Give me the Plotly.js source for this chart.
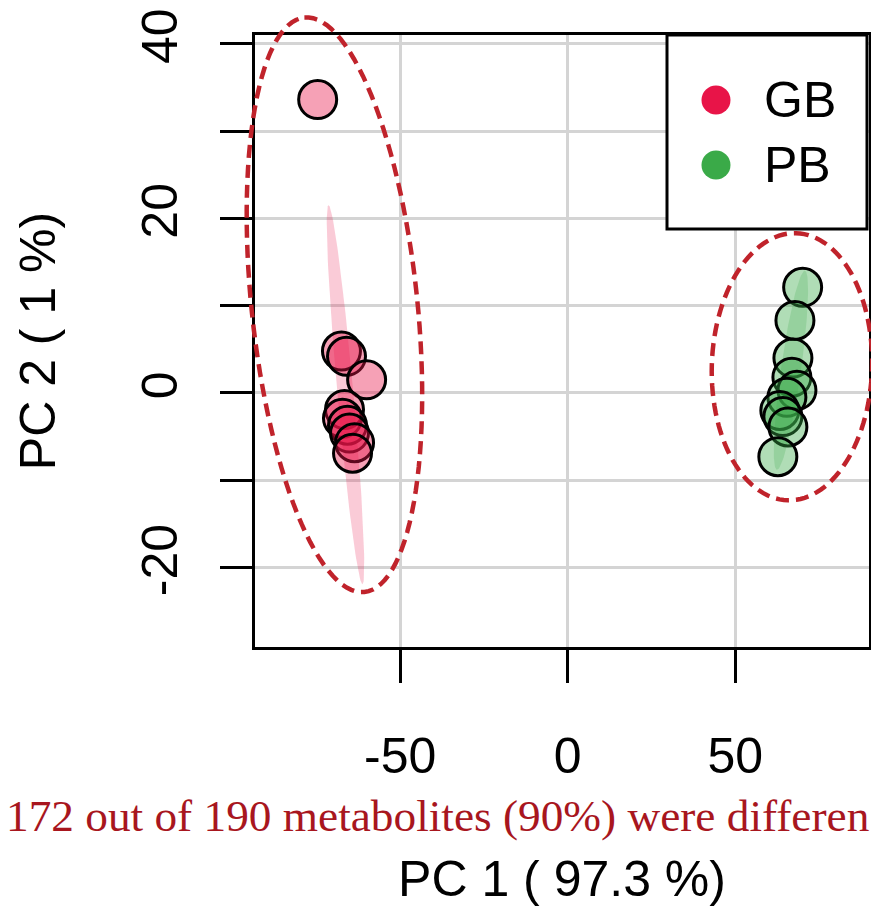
<!DOCTYPE html>
<html>
<head>
<meta charset="utf-8">
<script src="https://cdn.plot.ly/plotly-3.0.1.min.js"></script>
<style>html,body{margin:0;padding:0;background:#fff;}#chart{width:871px;height:907px;}</style>
</head>
<body>
<div id="chart"></div>
<script>
// ---- data ----
const groups = ['GB', 'PB'];
const gbPC1 = [-74.6, -67.5, -66.0, -60.0, -66.6, -67.2, -65.7, -65.1, -63.6, -64.2];
const gbPC2 = [33.6, 4.8, 4.2, 1.5, -1.9, -2.9, -3.7, -4.6, -5.7, -6.9];
const pbPC1 = [70.1, 67.8, 67.2, 66.9, 68.4, 65.4, 63.3, 64.2, 65.7, 62.7];
const pbPC2 = [12.1, 8.3, 4.0, 1.8, 0.3, -0.5, -2.0, -2.7, -3.9, -7.3];
// confidence ellipses: centre, major conjugate vector, minor conjugate vector (data units)
const gbConf = [-66.3, -0.2, -5.07, 21.7, 2.38, 0.08];
const pbConf = [66.6, 2.6, 4.18, 11.4, 2.96, -0.16];
// dashed group ellipses
const gbRing = [-69.6, 10.1, -8.96, 32.9, 24.6, 0.98];
const pbRing = [66.9, 3.0, 1.19, 15.3, 23.9, -0.23];
const xTicks = [-50, 0, 50];
const yTicks = [-20, -10, 0, 10, 20, 30, 40];
const yTickText = ['-20', '', '0', '', '20', '', '40'];
const xRange = [-93.3, 89.9];
const yRange = [-29.1, 41.0];
const note = '172 out of 190 metabolites (90%) were differen';

// ---- styles ----
const gbCol = 'rgb(232,20,72)';
const pbCol = 'rgb(58,170,72)';
const gbFill = 'rgba(232,20,72,0.4)';
const pbFill = 'rgba(58,170,72,0.4)';
const ringCol = '#c0232b';
const sans = 'Liberation Sans, Arial, sans-serif';

function ellipse(p) {
  const xs = [], ys = [];
  for (let i = 0; i <= 120; i++) {
    const t = 2 * Math.PI * i / 120;
    xs.push(p[0] + p[2] * Math.cos(t) + p[4] * Math.sin(t));
    ys.push(p[1] + p[3] * Math.cos(t) + p[5] * Math.sin(t));
  }
  return [xs, ys];
}
function paperPath(p) {
  const [xs, ys] = ellipse(p);
  let d = '';
  for (let i = 0; i < xs.length; i++) {
    const px = (xs[i] - xRange[0]) / (xRange[1] - xRange[0]);
    const py = (ys[i] - yRange[0]) / (yRange[1] - yRange[0]);
    d += (i ? 'L' : 'M') + px.toFixed(5) + ',' + py.toFixed(5);
  }
  return d + 'Z';
}

const gbE = ellipse(gbConf), pbE = ellipse(pbConf);
const traces = [
  {x: gbE[0], y: gbE[1], mode: 'lines', fill: 'toself', fillcolor: 'rgba(232,20,72,0.22)',
   line: {width: 0, color: 'rgba(0,0,0,0)'}, hoverinfo: 'skip', showlegend: false},
  {x: pbE[0], y: pbE[1], mode: 'lines', fill: 'toself', fillcolor: 'rgba(58,170,72,0.22)',
   line: {width: 0, color: 'rgba(0,0,0,0)'}, hoverinfo: 'skip', showlegend: false},
  {x: gbPC1, y: gbPC2, name: groups[0], mode: 'markers', showlegend: false,
   marker: {size: 38, color: gbFill, line: {color: '#000', width: 3}}},
  {x: pbPC1, y: pbPC2, name: groups[1], mode: 'markers', showlegend: false,
   marker: {size: 38, color: pbFill, line: {color: '#000', width: 3}}}
];

const plotL = 255, plotT = 35, plotW = 614, plotH = 612;
const px2x = v => (v - plotL) / plotW;
const px2y = v => (plotT + plotH - v) / plotH;

const shapes = [
  {type: 'path', xref: 'paper', yref: 'paper', path: paperPath(gbRing), layer: 'above',
   line: {color: ringCol, width: 4.5, dash: '13px,7px'}},
  {type: 'path', xref: 'paper', yref: 'paper', path: paperPath(pbRing), layer: 'above',
   line: {color: ringCol, width: 4.5, dash: '13px,7px'}},
  // legend box
  {type: 'rect', xref: 'paper', yref: 'paper', x0: px2x(667), x1: px2x(867), y0: px2y(229), y1: 1,
   fillcolor: '#fff', line: {color: '#000', width: 3}, layer: 'above'},
  {type: 'circle', xref: 'paper', yref: 'paper', xsizemode: 'pixel', ysizemode: 'pixel',
   xanchor: px2x(716), yanchor: px2y(100), x0: -14.5, x1: 14.5, y0: -14.5, y1: 14.5,
   fillcolor: gbCol, line: {width: 0}, layer: 'above'},
  {type: 'circle', xref: 'paper', yref: 'paper', xsizemode: 'pixel', ysizemode: 'pixel',
   xanchor: px2x(716), yanchor: px2y(165), x0: -14.5, x1: 14.5, y0: -14.5, y1: 14.5,
   fillcolor: pbCol, line: {width: 0}, layer: 'above'}
];

const annotations = [
  {xref: 'paper', yref: 'paper', x: px2x(762), y: px2y(100), xanchor: 'left', yanchor: 'middle',
   text: groups[0], showarrow: false, font: {family: sans, size: 50, color: '#000'}},
  {xref: 'paper', yref: 'paper', x: px2x(762), y: px2y(165), xanchor: 'left', yanchor: 'middle',
   text: groups[1], showarrow: false, font: {family: sans, size: 50, color: '#000'}},
  {xref: 'paper', yref: 'paper', x: px2x(4), y: px2y(816), xanchor: 'left', yanchor: 'middle',
   text: note, showarrow: false, font: {family: 'Liberation Serif, Times New Roman, serif', size: 45.3, color: '#a8161e'}}
];

const layout = {
  width: 871, height: 907,
  margin: {l: plotL, r: 871 - plotL - plotW, t: plotT, b: 907 - plotT - plotH, pad: 0},
  paper_bgcolor: '#fff', plot_bgcolor: '#fff',
  showlegend: false,
  font: {family: sans, color: '#000'},
  xaxis: {
    range: xRange, tickvals: xTicks, ticktext: xTicks.map(String),
    ticks: 'outside', ticklen: 33, tickwidth: 3, tickcolor: '#000',
    ticklabelstandoff: 30,
    showline: true, mirror: true, linecolor: '#000', linewidth: 3,
    showgrid: true, gridcolor: '#d4d4d4', gridwidth: 3, zeroline: false,
    tickfont: {family: sans, size: 50, color: '#000'},
    title: {text: 'PC 1 ( 97.3 %)', font: {family: sans, size: 50, color: '#000'}, standoff: 90},
    automargin: false
  },
  yaxis: {
    range: yRange, tickvals: yTicks, ticktext: yTickText, tickangle: -90,
    ticks: 'outside', ticklen: 32, tickwidth: 3, tickcolor: '#000',
    ticklabelstandoff: 23,
    showline: true, mirror: true, linecolor: '#000', linewidth: 3,
    showgrid: true, gridcolor: '#d4d4d4', gridwidth: 3, zeroline: false,
    tickfont: {family: sans, size: 50, color: '#000'},
    title: {text: 'PC 2 ( 1 %)', font: {family: sans, size: 50, color: '#000'}, standoff: 61},
    automargin: false
  },
  shapes: shapes,
  annotations: annotations
};

Plotly.newPlot('chart', traces, layout, {staticPlot: true, displayModeBar: false});
</script>
</body>
</html>
